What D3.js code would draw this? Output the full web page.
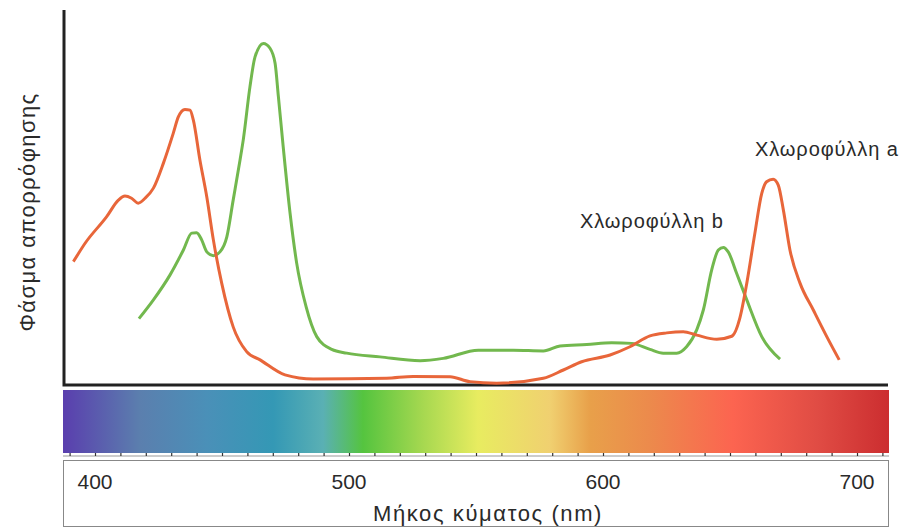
<!DOCTYPE html>
<html lang="el">
<head>
  <meta charset="UTF-8">
  <title>Φάσμα απορρόφησης χλωροφυλλών</title>
  <style>
    body { margin: 0; background: #fff; }
    svg text { font-family: "Liberation Sans", Arial, sans-serif; fill: #2a2a2a; }
  </style>
</head>
<body>
<svg id="chart" width="903" height="529"></svg>

<script src="https://d3js.org/d3.v7.min.js"></script>
<script>
// wavelength (nm) and relative absorbance (0-100)
var chlA_nm  = [391.5, 396.1, 404.6, 409.2, 411.8, 414.4, 417.0, 419.7, 423.0, 426.9, 430.8, 432.8, 435.4, 437.4, 438.7, 441.3, 444.0, 446.6, 449.9, 454.4, 459.7, 465.0, 474.8, 485.9, 514.8, 525.3, 539.8, 547.6, 558.1, 576.5, 584.4, 591.6, 602.8, 610.6, 618.5, 625.1, 631.6, 636.9, 644.8, 650.7, 653.9, 656.6, 659.8, 662.5, 664.4, 667.0, 669.0, 671.0, 673.6, 677.6, 682.8, 688.1, 693.0];
var chlA_abs = [32.9, 37.8, 44.9, 49.3, 50.4, 49.8, 48.5, 49.8, 52.5, 59.1, 67.1, 71.5, 73.5, 73.3, 70.7, 60.0, 50.2, 38.7, 27.1, 15.5, 8.9, 6.7, 2.7, 1.6, 1.8, 2.3, 2.2, 0.9, 0.5, 1.8, 4.0, 6.2, 8.0, 10.2, 13.1, 13.9, 14.2, 13.3, 12.2, 13.0, 17.9, 27.1, 40.5, 51.1, 54.2, 54.9, 53.3, 46.7, 36.0, 27.1, 20.0, 12.9, 6.7];

var chlB_nm  = [417.3, 423.0, 429.5, 434.8, 438.1, 440.0, 442.0, 444.0, 446.6, 449.2, 451.9, 454.4, 457.1, 458.4, 461.0, 463.0, 466.3, 468.9, 470.9, 472.2, 474.1, 476.8, 479.4, 483.1, 487.3, 493.2, 499.1, 512.2, 528.0, 537.1, 550.9, 564.7, 576.5, 583.1, 593.6, 603.4, 611.3, 618.5, 623.7, 629.0, 632.9, 636.9, 639.5, 642.8, 645.4, 647.4, 649.3, 652.6, 656.6, 662.5, 669.7];
var chlB_abs = [17.7, 22.7, 29.3, 36.0, 40.5, 40.6, 38.7, 35.5, 34.5, 35.5, 39.5, 49.3, 60.0, 65.5, 79.5, 87.5, 91.1, 89.8, 85.8, 76.9, 63.5, 45.8, 32.5, 20.9, 12.9, 9.5, 8.5, 7.5, 6.5, 7.1, 9.3, 9.3, 9.1, 10.4, 10.8, 11.3, 11.1, 9.5, 8.5, 8.5, 10.2, 14.7, 20.0, 30.7, 36.0, 36.7, 35.5, 29.8, 22.7, 12.9, 6.9];

// visible spectrum colour stops
var spectrumNm     = [387.4, 417.7, 444.1, 470.1, 489.8, 505.5, 529.1, 550.8, 579.1, 594.9, 618.5, 651.2, 684.3, 712.2];
var spectrumColors = ["#5a3fae", "#5b7fae", "#4a90b8", "#3498b5", "#5ab0b4", "#55c43f", "#a6d850", "#e8ec60", "#f0d070", "#e8a04a", "#ec8a4c", "#fc6450", "#e04c44", "#cc2e30"];

var tickLabels = [400, 500, 600, 700];

var svg = d3.select("#chart");

var x = d3.scaleLinear().domain([400, 700]).range([95, 857]);
var y = d3.scaleLinear().domain([0, 100]).range([385, 10]);

var left = 64, right = 888;

// spectrum gradient
var grad = svg.append("defs").append("linearGradient")
  .attr("id", "spectrum")
  .attr("gradientUnits", "userSpaceOnUse")
  .attr("x1", left).attr("x2", right).attr("y1", 0).attr("y2", 0);

grad.selectAll("stop")
  .data(spectrumNm)
  .enter().append("stop")
  .attr("offset", function (d) { return (x(d) - left) / (right - left); })
  .attr("stop-color", function (d, i) { return spectrumColors[i]; });

svg.append("rect")
  .attr("x", 63).attr("y", 390)
  .attr("width", right + 1 - 63).attr("height", 63)
  .attr("fill", "url(#spectrum)");

// small ticks every 10 nm under the spectrum
var tickAxis = d3.axisTop(x)
  .tickValues(d3.range(390, 711, 10))
  .tickSize(3)
  .tickFormat("");

var gt = svg.append("g")
  .attr("transform", "translate(0,456)")
  .call(tickAxis);
gt.select(".domain").attr("stroke", "#999").attr("d", "M63,0H889");
gt.selectAll(".tick line").attr("stroke", "#333").attr("stroke-width", 1.2);

// box with labels
svg.append("rect")
  .attr("x", 63.5).attr("y", 460.5)
  .attr("width", 825).attr("height", 66)
  .attr("fill", "none")
  .attr("stroke", "#888")
  .attr("stroke-width", 1);

svg.append("g").selectAll("text")
  .data(tickLabels)
  .enter().append("text")
  .attr("x", function (d) { return x(d); })
  .attr("y", 489)
  .attr("text-anchor", "middle")
  .attr("font-size", 21)
  .text(function (d) { return d; });

svg.append("text")
  .attr("x", 488).attr("y", 521)
  .attr("text-anchor", "middle")
  .attr("font-size", 22)
  .attr("letter-spacing", 1.6)
  .text("Μήκος κύματος (nm)");

// axes lines
svg.append("path")
  .attr("d", "M" + left + "," + 10 + "V" + 385 + "H" + right)
  .attr("fill", "none")
  .attr("stroke", "#222")
  .attr("stroke-width", 3);

svg.append("text")
  .attr("transform", "translate(35,212) rotate(-90)")
  .attr("text-anchor", "middle")
  .attr("font-size", 22)
  .attr("letter-spacing", 1.4)
  .text("Φάσμα απορρόφησης");

// curves
var line = d3.line()
  .x(function (d) { return x(d[0]); })
  .y(function (d) { return y(d[1]); })
  .curve(d3.curveMonotoneX);

svg.append("path")
  .datum(d3.zip(chlB_nm, chlB_abs))
  .attr("d", line)
  .attr("fill", "none")
  .attr("stroke", "#72b84e")
  .attr("stroke-width", 3)
  .attr("stroke-linejoin", "round");

svg.append("path")
  .datum(d3.zip(chlA_nm, chlA_abs))
  .attr("d", line)
  .attr("fill", "none")
  .attr("stroke", "#e8663a")
  .attr("stroke-width", 3)
  .attr("stroke-linejoin", "round");

svg.append("text")
  .attr("x", 755).attr("y", 156)
  .attr("font-size", 20)
  .attr("letter-spacing", 0.9)
  .text("Χλωροφύλλη a");

svg.append("text")
  .attr("x", 580).attr("y", 228)
  .attr("font-size", 20)
  .attr("letter-spacing", 0.9)
  .text("Χλωροφύλλη b");
</script>
</body>
</html>
